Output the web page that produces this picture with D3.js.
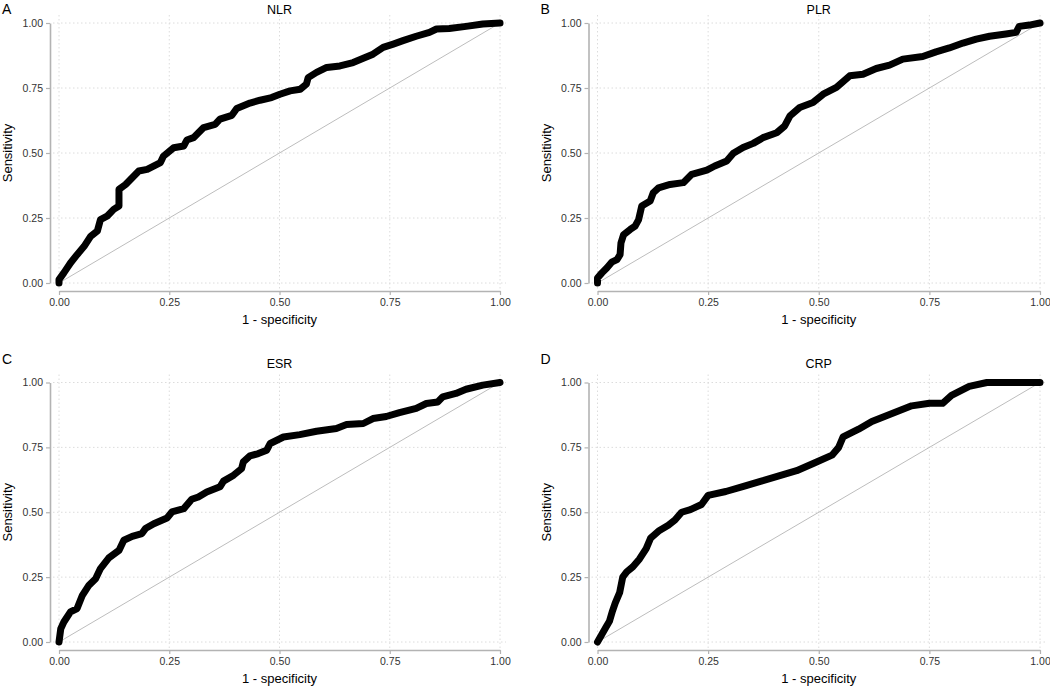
<!DOCTYPE html>
<html><head><meta charset="utf-8">
<script src="https://cdn.jsdelivr.net/npm/d3@7"></script>
<style>body{margin:0;background:#fff;} svg{display:block;font-family:"Liberation Sans",Arial,sans-serif;}</style>
</head><body><svg id="c" width="1050" height="686"></svg>
<script>
const panelLabels = ["A","B","C","D"];
const panelTitles = ["NLR","PLR","ESR","CRP"];
const tickValues = [0,0.25,0.5,0.75,1];
const xTitle = "1 - specificity";
const yTitle = "Sensitivity";

const nlrFpr = [0,0,0.011,0.026,0.041,0.057,0.072,0.087,0.094,0.109,0.124,0.136,0.136,0.151,0.166,0.181,0.2,0.23,0.237,0.26,0.283,0.29,0.305,0.328,0.354,0.365,0.392,0.403,0.433,0.456,0.482,0.501,0.524,0.547,0.561,0.565,0.584,0.607,0.637,0.667,0.69,0.712,0.735,0.758,0.78,0.81,0.84,0.856,0.885,0.923,0.961,1];
const nlrTpr = [0,0.013,0.039,0.077,0.109,0.141,0.18,0.2,0.244,0.257,0.283,0.296,0.36,0.379,0.405,0.431,0.437,0.463,0.488,0.52,0.527,0.55,0.559,0.598,0.61,0.63,0.645,0.671,0.692,0.703,0.713,0.726,0.739,0.745,0.765,0.79,0.81,0.829,0.835,0.848,0.864,0.88,0.906,0.919,0.932,0.949,0.964,0.977,0.979,0.987,0.996,1];

const plrFpr = [0,0,0.01,0.021,0.032,0.044,0.051,0.053,0.059,0.074,0.085,0.093,0.1,0.119,0.126,0.138,0.164,0.194,0.213,0.247,0.265,0.292,0.307,0.329,0.352,0.374,0.405,0.423,0.435,0.457,0.487,0.51,0.54,0.57,0.6,0.63,0.66,0.69,0.735,0.765,0.795,0.826,0.856,0.886,0.923,0.946,0.953,0.976,1];
const plrTpr = [0,0.019,0.039,0.058,0.08,0.09,0.109,0.154,0.186,0.206,0.219,0.244,0.296,0.315,0.347,0.366,0.379,0.386,0.418,0.434,0.45,0.469,0.499,0.521,0.537,0.559,0.578,0.604,0.643,0.675,0.694,0.726,0.752,0.797,0.803,0.825,0.838,0.861,0.871,0.889,0.904,0.923,0.938,0.949,0.958,0.964,0.987,0.992,1];

const esrFpr = [0,0.004,0.011,0.026,0.041,0.053,0.068,0.083,0.094,0.113,0.136,0.147,0.166,0.188,0.196,0.215,0.245,0.256,0.283,0.301,0.316,0.335,0.365,0.373,0.396,0.414,0.418,0.433,0.452,0.471,0.479,0.509,0.546,0.584,0.629,0.652,0.69,0.712,0.742,0.772,0.81,0.833,0.859,0.87,0.9,0.923,0.961,1];
const esrTpr = [0,0.051,0.077,0.116,0.129,0.18,0.219,0.244,0.283,0.324,0.353,0.392,0.407,0.418,0.437,0.456,0.478,0.501,0.514,0.55,0.559,0.578,0.598,0.62,0.643,0.668,0.694,0.717,0.726,0.739,0.765,0.79,0.799,0.812,0.823,0.838,0.842,0.861,0.869,0.884,0.9,0.919,0.925,0.945,0.958,0.974,0.99,1];

const crpFpr = [0,0.01,0.02,0.027,0.034,0.04,0.05,0.057,0.066,0.08,0.095,0.11,0.12,0.14,0.16,0.175,0.19,0.21,0.235,0.25,0.29,0.33,0.37,0.41,0.45,0.49,0.53,0.545,0.555,0.59,0.62,0.65,0.68,0.71,0.75,0.78,0.8,0.84,0.88,1];
const crpTpr = [0,0.03,0.06,0.08,0.12,0.15,0.19,0.25,0.27,0.29,0.32,0.36,0.40,0.43,0.45,0.47,0.5,0.51,0.53,0.565,0.58,0.6,0.62,0.64,0.66,0.69,0.72,0.75,0.79,0.82,0.85,0.87,0.89,0.91,0.92,0.92,0.95,0.985,1,1];

const seriesFpr = [nlrFpr, plrFpr, esrFpr, crpFpr];
const seriesTpr = [nlrTpr, plrTpr, esrTpr, crpTpr];

const svg = d3.select("#c");
const cols = [[59,500],[597.5,1040]];
const rows = [[283,23],[642,382.5]];
const labelY = [13.5,364];
const titleY = [14,368];
const axisCol = "#b3b3b3", gridCol = "#dcdcdc", textCol = "#333";

for (let i=0;i<4;i++){
  const ci = i%2, ri = Math.floor(i/2);
  const c = cols[ci], r = rows[ri];
  const x = d3.scaleLinear().domain([0,1]).range(c);
  const y = d3.scaleLinear().domain([0,1]).range(r);
  const g = svg.append("g");
  const gx0 = c[0]-6, gx1 = c[1]+6, gy0 = r[1]-8, gy1 = r[0]+6;
  g.selectAll(".gv").data(tickValues).join("line")
    .attr("x1",d=>x(d)).attr("x2",d=>x(d)).attr("y1",gy0).attr("y2",gy1)
    .attr("stroke",gridCol).attr("stroke-width",1).attr("stroke-dasharray","1.5,2.5");
  g.selectAll(".gh").data(tickValues).join("line")
    .attr("x1",gx0).attr("x2",gx1).attr("y1",d=>y(d)).attr("y2",d=>y(d))
    .attr("stroke",gridCol).attr("stroke-width",1).attr("stroke-dasharray","1.5,2.5");
  g.append("line").attr("x1",x(0)).attr("y1",y(0)).attr("x2",x(1)).attr("y2",y(1))
    .attr("stroke","#bdbdbd").attr("stroke-width",1);
  const ax = g.append("g").attr("transform",`translate(0,${r[0]+8})`)
    .call(d3.axisBottom(x).tickValues(tickValues).tickFormat(d3.format(".2f")).tickSize(4).tickSizeOuter(0).tickPadding(4));
  const ay = g.append("g").attr("transform",`translate(${c[0]-9},0)`)
    .call(d3.axisLeft(y).tickValues(tickValues).tickFormat(d3.format(".2f")).tickSize(4).tickSizeOuter(0).tickPadding(3));
  [ax,ay].forEach(a=>{
    a.select(".domain").attr("stroke",axisCol).attr("stroke-width",1.6);
    a.selectAll(".tick line").attr("stroke",axisCol).attr("stroke-width",1.2);
    a.selectAll(".tick text").attr("fill",textCol).attr("font-size",10.5).attr("font-family","Liberation Sans, Arial, sans-serif");
  });
  const pts = seriesFpr[i].map((f,k)=>[f,seriesTpr[i][k]]);
  const line = d3.line().x(d=>x(d[0])).y(d=>y(d[1]));
  g.append("path").attr("d",line(pts)).attr("fill","none").attr("stroke","#000")
    .attr("stroke-width",7).attr("stroke-linejoin","round").attr("stroke-linecap","round");
  g.append("text").attr("x",(c[0]+c[1])/2).attr("y",titleY[ri]).attr("text-anchor","middle")
    .attr("font-size",12.5).attr("fill","#000").text(panelTitles[i]);
  g.append("text").attr("x",c[0]-57).attr("y",labelY[ri]).attr("font-size",14).attr("fill","#000")
    .text(panelLabels[i]);
  g.append("text").attr("x",(c[0]+c[1])/2).attr("y",r[0]+41).attr("text-anchor","middle")
    .attr("font-size",13).attr("fill","#000").text(xTitle);
  g.append("text").attr("transform",`translate(${c[0]-47},${(r[0]+r[1])/2}) rotate(-90)`)
    .attr("text-anchor","middle").attr("font-size",13).attr("fill","#000").text(yTitle);
}
</script></body></html>
